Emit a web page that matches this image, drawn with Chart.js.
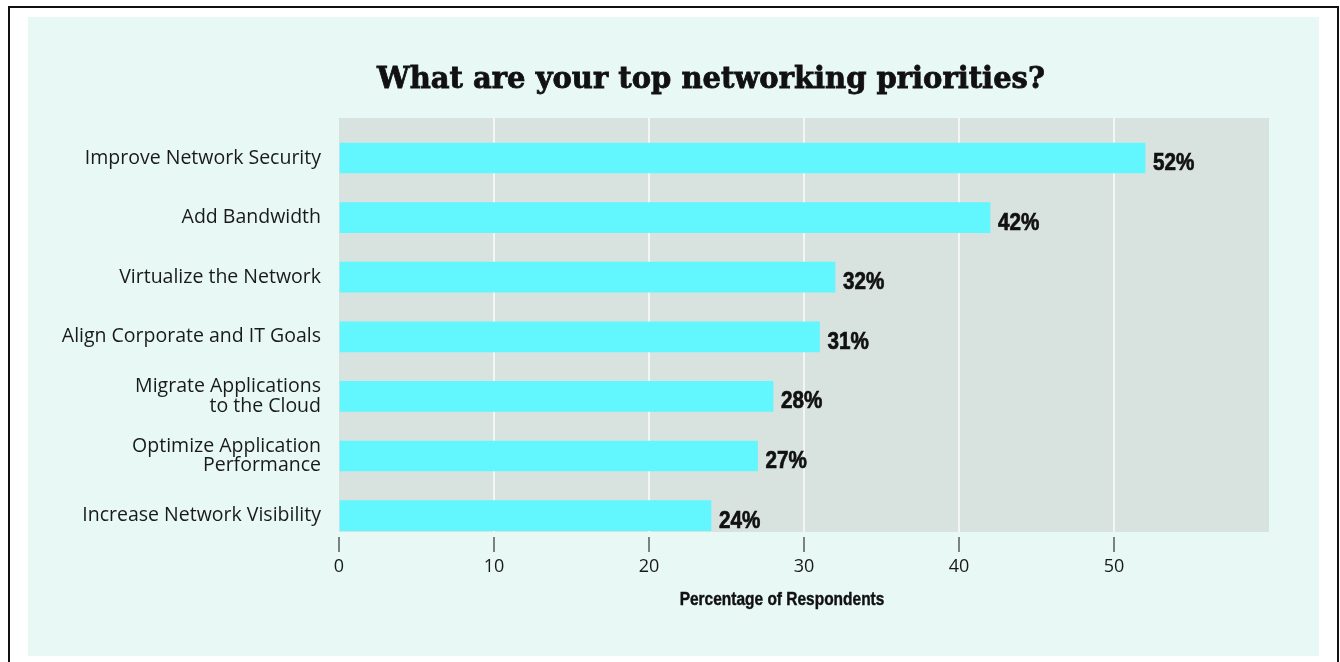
<!DOCTYPE html>
<html>
<head>
<meta charset="utf-8">
<script src="https://cdn.jsdelivr.net/npm/chart.js@4.4.1/dist/chart.umd.min.js"></script>
<style>
  html, body { margin: 0; padding: 0; background: #fff; width: 1340px; height: 662px; overflow: hidden; }
  #frame { position: absolute; left: 8px; top: 6px; width: 1331px; height: 720px; border: 2px solid #111; box-sizing: border-box; }
  #panel { position: absolute; left: 28px; top: 17px; width: 1291px; height: 639px; background: #e8f8f5; }
  #chart { position: absolute; left: 0; top: 0; }
</style>
</head>
<body>
<div id="frame"></div>
<div id="panel"></div>
<canvas id="chart" width="1340" height="662"></canvas>
<script>
// categories, top to bottom
const categories = [
    'Improve Network Security',
    'Add Bandwidth',
    'Virtualize the Network',
    'Align Corporate and IT Goals',
    ['Migrate Applications', 'to the Cloud'],
    ['Optimize Application', 'Performance'],
    'Increase Network Visibility'
];
const values = [52, 42, 32, 31, 28, 27, 24];
const xTickValues = [0, 10, 20, 30, 40, 50];

const titleText = 'What are your top networking priorities?';
const axisTitleText = 'Percentage of Respondents';

const boldSans = '"Liberation Sans", Arial, sans-serif';

// draw text squeezed horizontally (the original uses a condensed bold face)
function narrowText(ctx, text, x, y, squeeze, stroke) {
    ctx.save();
    ctx.translate(x, y);
    ctx.scale(squeeze, 1);
    ctx.fillText(text, 0, 0);
    if (stroke) {
        ctx.lineWidth = stroke;
        ctx.strokeText(text, 0, 0);
    }
    ctx.restore();
}

// gray plot background
const plotBackground = {
    id: 'plotBackground',
    beforeDraw(chart) {
        const { ctx, chartArea: a } = chart;
        ctx.save();
        ctx.fillStyle = '#d8e2df';
        ctx.fillRect(a.left, a.top, a.width, a.height);
        ctx.restore();
    }
};

// "52%" etc next to bars
const valueLabels = {
    id: 'valueLabels',
    afterDatasetsDraw(chart) {
        const ctx = chart.ctx;
        const meta = chart.getDatasetMeta(0);
        ctx.save();
        ctx.font = 'bold 24px ' + boldSans;
        ctx.fillStyle = '#111';
        ctx.strokeStyle = '#111';
        ctx.textAlign = 'left';
        ctx.textBaseline = 'alphabetic';
        meta.data.forEach((bar, i) => {
            narrowText(ctx, values[i] + '%', bar.x + 8, bar.y + 12, 0.86, 0.7);
        });
        ctx.restore();
    }
};

// chart title + axis title, both sit off-centre in the original
const titles = {
    id: 'titles',
    afterDraw(chart) {
        const ctx = chart.ctx;
        ctx.save();
        ctx.fillStyle = '#111';
        ctx.strokeStyle = '#111';
        ctx.textAlign = 'center';
        ctx.textBaseline = 'alphabetic';
        ctx.font = 'bold 29px "DejaVu Serif", serif';
        ctx.lineWidth = 0.8;
        ctx.fillText(titleText, 711, 88);
        ctx.strokeText(titleText, 711, 88);

        ctx.font = 'bold 18px ' + boldSans;
        ctx.textBaseline = 'middle';
        narrowText(ctx, axisTitleText, 782, 600, 0.86, 0.4);
        ctx.restore();
    }
};

new Chart(document.getElementById('chart'), {
    type: 'bar',
    data: {
        datasets: [{
            data: values.map((v, i) => ({ x: v, y: i })),
            backgroundColor: '#62f6fe',
            borderWidth: 0,
            barThickness: 30
        }]
    },
    options: {
        indexAxis: 'y',
        responsive: false,
        animation: false,
        events: [],
        layout: {
            padding: { left: 0, right: 71, top: 118, bottom: 0 }
        },
        plugins: {
            legend: { display: false },
            tooltip: { enabled: false },
            title: { display: false }
        },
        scales: {
            y: {
                type: 'linear',
                offset: false,
                reverse: true,
                min: -0.671,
                max: 6.275,
                afterFit(scale) { scale.width = 339; },
                border: { display: false },
                grid: { display: false, drawTicks: false },
                ticks: {
                    stepSize: 1,
                    includeBounds: false,
                    padding: 18,
                    color: '#1a1a1a',
                    font: { family: '"Open Sans"', size: 19.5, lineHeight: 0.98 },
                    callback: (v) => categories[v]
                }
            },
            x: {
                type: 'linear',
                min: 0,
                max: 60,
                afterFit(scale) { scale.height = 130; },
                afterBuildTicks(scale) {
                    scale.ticks = scale.ticks.filter(t => xTickValues.includes(t.value));
                },
                border: { display: false },
                grid: {
                    color: (c) => c.tick && c.tick.value === 0 ? 'rgba(0,0,0,0)' : '#f3f6f5',
                    lineWidth: 2,
                    tickColor: '#333',
                    tickWidth: 1.2,
                    tickLength: 20,
                    tickBorderDash: [15, 5],
                    tickBorderDashOffset: 15
                },
                ticks: {
                    stepSize: 10,
                    padding: 4,
                    color: '#1a1a1a',
                    font: { family: '"Open Sans"', size: 18 }
                }
            }
        }
    },
    plugins: [plotBackground, valueLabels, titles]
});
</script>
</body>
</html>
